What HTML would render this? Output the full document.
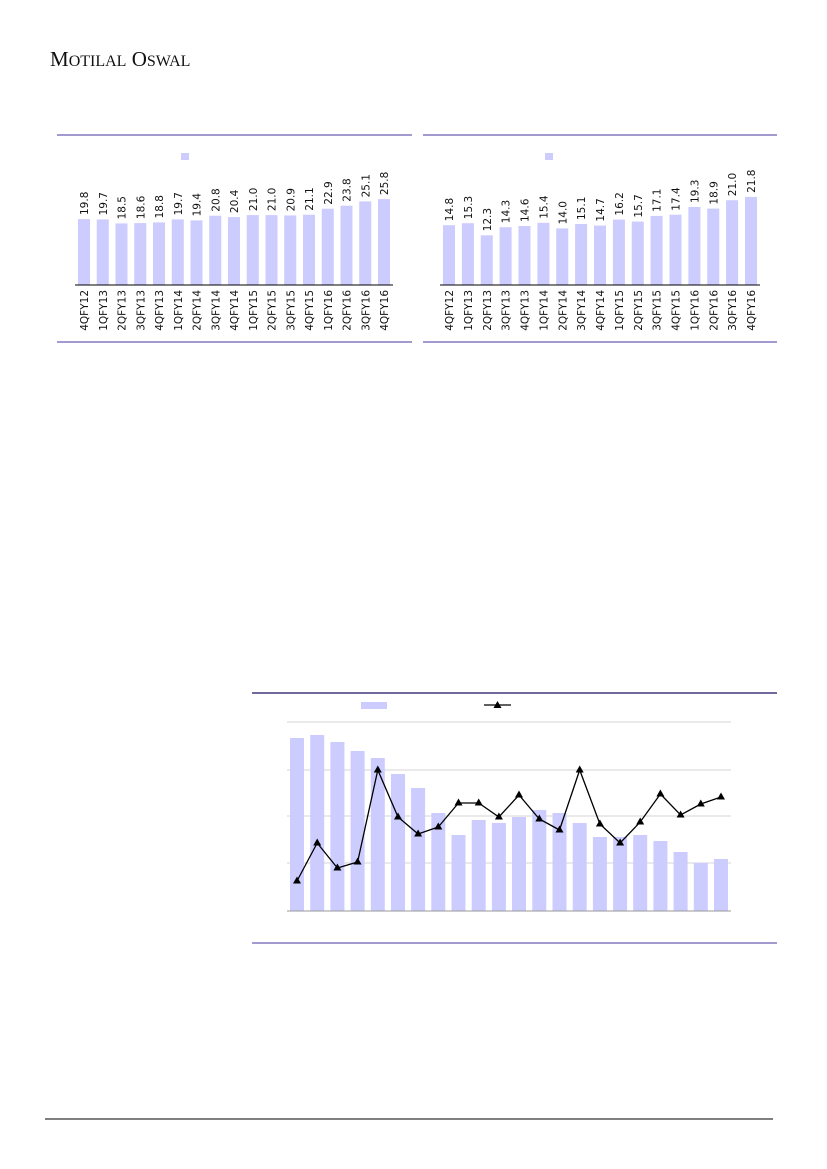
<!DOCTYPE html>
<html><head><meta charset="utf-8"><style>
html,body{margin:0;padding:0;background:#fff}
svg{display:block}
text{font-family:"DejaVu Sans","Liberation Sans",sans-serif}
</style></head><body>
<svg width="827" height="1169" viewBox="0 0 827 1169" xmlns="http://www.w3.org/2000/svg">
<text x="50" y="66" font-size="21" fill="#111" style="font-family:'Liberation Serif',serif">M<tspan font-size="16">OTILAL</tspan> O<tspan font-size="16">SWAL</tspan></text>

<!-- Chart 1 -->
<line x1="57" y1="135" x2="412" y2="135" stroke="#6a5fb5" stroke-width="1.3"/>
<line x1="57" y1="342" x2="412" y2="342" stroke="#6a5fb5" stroke-width="1.3"/>
<rect x="181" y="153" width="8" height="7" fill="#ccccff"/>
<g fill="#ccccff">
<rect x="78" y="219.1" width="12" height="65.9"/><rect x="96.75" y="219.4" width="12" height="65.6"/><rect x="115.5" y="223.4" width="12" height="61.6"/><rect x="134.25" y="223.1" width="12" height="61.9"/><rect x="153" y="222.4" width="12" height="62.6"/><rect x="171.75" y="219.4" width="12" height="65.6"/><rect x="190.5" y="220.4" width="12" height="64.6"/><rect x="209.25" y="215.7" width="12" height="69.3"/><rect x="228" y="217.1" width="12" height="67.9"/><rect x="246.75" y="215.1" width="12" height="69.9"/><rect x="265.5" y="215.1" width="12" height="69.9"/><rect x="284.25" y="215.4" width="12" height="69.6"/><rect x="303" y="214.7" width="12" height="70.3"/><rect x="321.75" y="208.7" width="12" height="76.3"/><rect x="340.5" y="205.7" width="12" height="79.3"/><rect x="359.25" y="201.4" width="12" height="83.6"/><rect x="378" y="199.1" width="12" height="85.9"/>
</g>
<line x1="75" y1="285" x2="393" y2="285" stroke="#000" stroke-width="1"/>
<g font-size="10.5" fill="#111">
<text transform="translate(88,215) rotate(-90)">19.8</text><text transform="translate(106.75,215.4) rotate(-90)">19.7</text><text transform="translate(125.5,219.4) rotate(-90)">18.5</text><text transform="translate(144.25,219.1) rotate(-90)">18.6</text><text transform="translate(163,218.4) rotate(-90)">18.8</text><text transform="translate(181.75,215.4) rotate(-90)">19.7</text><text transform="translate(200.5,216.4) rotate(-90)">19.4</text><text transform="translate(219.25,211.7) rotate(-90)">20.8</text><text transform="translate(238,213.1) rotate(-90)">20.4</text><text transform="translate(256.75,211.1) rotate(-90)">21.0</text><text transform="translate(275.5,211.1) rotate(-90)">21.0</text><text transform="translate(294.25,211.4) rotate(-90)">20.9</text><text transform="translate(313,210.7) rotate(-90)">21.1</text><text transform="translate(331.75,204.7) rotate(-90)">22.9</text><text transform="translate(350.5,201.7) rotate(-90)">23.8</text><text transform="translate(369.25,197.4) rotate(-90)">25.1</text><text transform="translate(388,195.1) rotate(-90)">25.8</text>
</g>
<g font-size="10.5" fill="#111" text-anchor="end">
<text transform="translate(88,290) rotate(-90)">4QFY12</text><text transform="translate(106.75,290) rotate(-90)">1QFY13</text><text transform="translate(125.5,290) rotate(-90)">2QFY13</text><text transform="translate(144.25,290) rotate(-90)">3QFY13</text><text transform="translate(163,290) rotate(-90)">4QFY13</text><text transform="translate(181.75,290) rotate(-90)">1QFY14</text><text transform="translate(200.5,290) rotate(-90)">2QFY14</text><text transform="translate(219.25,290) rotate(-90)">3QFY14</text><text transform="translate(238,290) rotate(-90)">4QFY14</text><text transform="translate(256.75,290) rotate(-90)">1QFY15</text><text transform="translate(275.5,290) rotate(-90)">2QFY15</text><text transform="translate(294.25,290) rotate(-90)">3QFY15</text><text transform="translate(313,290) rotate(-90)">4QFY15</text><text transform="translate(331.75,290) rotate(-90)">1QFY16</text><text transform="translate(350.5,290) rotate(-90)">2QFY16</text><text transform="translate(369.25,290) rotate(-90)">3QFY16</text><text transform="translate(388,290) rotate(-90)">4QFY16</text>
</g>

<!-- Chart 2 -->
<line x1="423" y1="135" x2="777" y2="135" stroke="#6a5fb5" stroke-width="1.3"/>
<line x1="423" y1="342" x2="777" y2="342" stroke="#6a5fb5" stroke-width="1.3"/>
<rect x="545" y="153" width="8" height="7" fill="#ccccff"/>
<g fill="#ccccff">
<rect x="443" y="225.2" width="12" height="59.8"/><rect x="461.9" y="223.2" width="12" height="61.8"/><rect x="480.75" y="235.3" width="12" height="49.7"/><rect x="499.6" y="227.2" width="12" height="57.8"/><rect x="518.5" y="226" width="12" height="59"/><rect x="537.4" y="222.8" width="12" height="62.2"/><rect x="556.25" y="228.4" width="12" height="56.6"/><rect x="575.1" y="224" width="12" height="61"/><rect x="594" y="225.6" width="12" height="59.4"/><rect x="612.9" y="219.6" width="12" height="65.4"/><rect x="631.75" y="221.6" width="12" height="63.4"/><rect x="650.6" y="215.9" width="12" height="69.1"/><rect x="669.5" y="214.7" width="12" height="70.3"/><rect x="688.4" y="207" width="12" height="78"/><rect x="707.25" y="208.6" width="12" height="76.4"/><rect x="726.1" y="200.2" width="12" height="84.8"/><rect x="745" y="196.9" width="12" height="88.1"/>
</g>
<line x1="440" y1="285" x2="760" y2="285" stroke="#000" stroke-width="1"/>
<g font-size="10.5" fill="#111">
<text transform="translate(453,221.2) rotate(-90)">14.8</text><text transform="translate(471.9,219.2) rotate(-90)">15.3</text><text transform="translate(490.75,231.3) rotate(-90)">12.3</text><text transform="translate(509.6,223.2) rotate(-90)">14.3</text><text transform="translate(528.5,222) rotate(-90)">14.6</text><text transform="translate(547.4,218.8) rotate(-90)">15.4</text><text transform="translate(566.25,224.4) rotate(-90)">14.0</text><text transform="translate(585.1,220) rotate(-90)">15.1</text><text transform="translate(604,221.6) rotate(-90)">14.7</text><text transform="translate(622.9,215.6) rotate(-90)">16.2</text><text transform="translate(641.75,217.6) rotate(-90)">15.7</text><text transform="translate(660.6,211.9) rotate(-90)">17.1</text><text transform="translate(679.5,210.7) rotate(-90)">17.4</text><text transform="translate(698.4,203) rotate(-90)">19.3</text><text transform="translate(717.25,204.6) rotate(-90)">18.9</text><text transform="translate(736.1,196.2) rotate(-90)">21.0</text><text transform="translate(755,192.9) rotate(-90)">21.8</text>
</g>
<g font-size="10.5" fill="#111" text-anchor="end">
<text transform="translate(453,290) rotate(-90)">4QFY12</text><text transform="translate(471.9,290) rotate(-90)">1QFY13</text><text transform="translate(490.75,290) rotate(-90)">2QFY13</text><text transform="translate(509.6,290) rotate(-90)">3QFY13</text><text transform="translate(528.5,290) rotate(-90)">4QFY13</text><text transform="translate(547.4,290) rotate(-90)">1QFY14</text><text transform="translate(566.25,290) rotate(-90)">2QFY14</text><text transform="translate(585.1,290) rotate(-90)">3QFY14</text><text transform="translate(604,290) rotate(-90)">4QFY14</text><text transform="translate(622.9,290) rotate(-90)">1QFY15</text><text transform="translate(641.75,290) rotate(-90)">2QFY15</text><text transform="translate(660.6,290) rotate(-90)">3QFY15</text><text transform="translate(679.5,290) rotate(-90)">4QFY15</text><text transform="translate(698.4,290) rotate(-90)">1QFY16</text><text transform="translate(717.25,290) rotate(-90)">2QFY16</text><text transform="translate(736.1,290) rotate(-90)">3QFY16</text><text transform="translate(755,290) rotate(-90)">4QFY16</text>
</g>

<!-- Chart 3 -->
<line x1="252" y1="693" x2="777" y2="693" stroke="#1a1060" stroke-width="1.3"/>
<line x1="252" y1="943" x2="777" y2="943" stroke="#6a5fb5" stroke-width="1.3"/>
<rect x="361" y="702" width="26" height="7" fill="#ccccff"/>
<line x1="484" y1="705" x2="511" y2="705" stroke="#000" stroke-width="1.2"/>
<polygon points="497.5,701 501.5,708 493.5,708" fill="#000"/>
<g stroke="#d4d4d4" stroke-width="1">
<line x1="287" y1="722" x2="731" y2="722"/><line x1="287" y1="770" x2="731" y2="770"/><line x1="287" y1="816" x2="731" y2="816"/><line x1="287" y1="863" x2="731" y2="863"/>
</g>
<g fill="#ccccff">
<rect x="290" y="738" width="14" height="173"/><rect x="310.2" y="735" width="14" height="176"/><rect x="330.4" y="742" width="14" height="169"/><rect x="350.6" y="751" width="14" height="160"/><rect x="370.8" y="758" width="14" height="153"/><rect x="391" y="774" width="14" height="137"/><rect x="411.1" y="788" width="14" height="123"/><rect x="431.3" y="813" width="14" height="98"/><rect x="451.5" y="835" width="14" height="76"/><rect x="471.7" y="820" width="14" height="91"/><rect x="491.9" y="823" width="14" height="88"/><rect x="512" y="817" width="14" height="94"/><rect x="532.3" y="810" width="14" height="101"/><rect x="552.5" y="813" width="14" height="98"/><rect x="572.7" y="823" width="14" height="88"/><rect x="592.9" y="837" width="14" height="74"/><rect x="613.1" y="837" width="14" height="74"/><rect x="633.2" y="835" width="14" height="76"/><rect x="653.4" y="841" width="14" height="70"/><rect x="673.6" y="852" width="14" height="59"/><rect x="693.8" y="863" width="14" height="48"/><rect x="714" y="859" width="14" height="52"/>
</g>
<line x1="287" y1="911" x2="731" y2="911" stroke="#999" stroke-width="1"/>
<polyline fill="none" stroke="#000" stroke-width="1.3" points="297,881 317.2,843 337.4,868 357.6,862 377.8,770 398,817 418.1,834 438.3,827 458.5,803 478.7,803 498.9,817 519,795 539.3,819 559.5,830 579.7,770 599.9,824 620.1,843 640.2,822 660.4,794 680.6,815 700.8,804 721,797"/>
<g fill="#000">
<polygon points="297,876.5 301,883.5 293,883.5"/><polygon points="317.2,838.5 321.2,845.5 313.2,845.5"/><polygon points="337.4,863.5 341.4,870.5 333.4,870.5"/><polygon points="357.6,857.5 361.6,864.5 353.6,864.5"/><polygon points="377.8,765.5 381.8,772.5 373.8,772.5"/><polygon points="398,812.5 402,819.5 394,819.5"/><polygon points="418.1,829.5 422.1,836.5 414.1,836.5"/><polygon points="438.3,822.5 442.3,829.5 434.3,829.5"/><polygon points="458.5,798.5 462.5,805.5 454.5,805.5"/><polygon points="478.7,798.5 482.7,805.5 474.7,805.5"/><polygon points="498.9,812.5 502.9,819.5 494.9,819.5"/><polygon points="519,790.5 523,797.5 515,797.5"/><polygon points="539.3,814.5 543.3,821.5 535.3,821.5"/><polygon points="559.5,825.5 563.5,832.5 555.5,832.5"/><polygon points="579.7,765.5 583.7,772.5 575.7,772.5"/><polygon points="599.9,819.5 603.9,826.5 595.9,826.5"/><polygon points="620.1,838.5 624.1,845.5 616.1,845.5"/><polygon points="640.2,817.5 644.2,824.5 636.2,824.5"/><polygon points="660.4,789.5 664.4,796.5 656.4,796.5"/><polygon points="680.6,810.5 684.6,817.5 676.6,817.5"/><polygon points="700.8,799.5 704.8,806.5 696.8,806.5"/><polygon points="721,792.5 725,799.5 717,799.5"/>
</g>

<line x1="45" y1="1119" x2="773" y2="1119" stroke="#000" stroke-width="1"/>
</svg>
</body></html>
